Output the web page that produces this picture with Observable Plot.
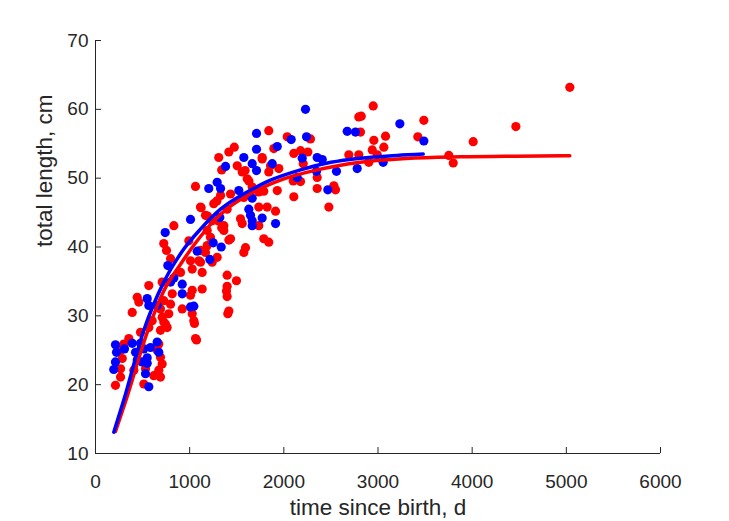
<!DOCTYPE html>
<html><head><meta charset="utf-8">
<script src="https://cdn.jsdelivr.net/npm/d3@7"></script>
<script src="https://cdn.jsdelivr.net/npm/@observablehq/plot@0.6"></script>
<style>body{margin:0;background:#fff}svg{display:block}</style>
</head><body><div id="chart"></div>
<script>
const xTicks = [0, 1000, 2000, 3000, 4000, 5000, 6000];
const yTicks = [10, 20, 30, 40, 50, 60, 70];
const xLabel = "time since birth, d";
const yLabel = "total length, cm";

// [time (d), total length (cm)]
const redPoints = [
[566,34.4],[443,32.7],[460,32.0],[390,30.5],[725,32.2],[797,31.7],[778,30.3],[708,29.8],[743,28.8],[690,27.9],[478,27.6],[354,26.7],[301,25.9],[266,25.0],[284,23.8],[266,22.3],[266,21.1],[212,19.9],[655,25.0],[690,24.0],[708,23.0],[672,22.1],[619,21.3],[513,20.1],[531,22.3],[407,22.1],[690,21.1],[1044,29.3],[1062,26.7],[690,31.0],[602,29.3],[566,28.3],[761,28.3],[672,25.9],[708,34.9],[815,33.2],
[1398,35.9],[1497,35.1],[1398,34.3],[1391,33.6],[1398,32.8],[1416,30.7],[1405,30.3],[1133,36.3],[1133,33.9],[1027,33.7],[1009,33.0],[921,31.0],[1027,30.3],[1051,28.9],[1073,26.5],
[832,43.1],[1122,45.7],[1168,44.6],[725,40.5],[754,39.5],[991,40.9],[797,38.3],[1009,38.0],[1115,37.8],[725,29.1],[1239,43.8],[1363,43.1],[1434,41.2],[1292,38.5],[1239,37.8],[1027,36.8],[903,36.3],
[1309,53.0],[1416,53.8],[1505,51.8],[1558,50.9],[1611,49.9],[1770,53.0],[1840,50.9],[1062,48.8],[1328,47.5],[1434,47.7],[1575,47.2],[1664,48.7],[1734,48.0],[1930,48.2],[1115,45.8],[1256,46.3],[1398,45.5],[1540,44.1],[1558,43.4],[1734,45.8],[1823,45.8],[1912,45.2],[1734,43.1],[1186,42.4],[1221,41.4],[1363,42.4],[1416,41.0],[1787,41.2],[1840,40.7],[1593,39.9],[1575,39.2],[1115,39.5],[1097,38.0],[1168,39.2],
[1340,51.2],[1474,54.5],[1589,51.1],[1629,49.6],[1190,44.5],[1289,46.7],[1299,43.8],[1340,42.8],[1186,40.2],
[1840,56.9],[2036,56.0],[2283,55.7],[1894,54.3],[2106,53.6],[2177,54.0],[2255,53.8],[2206,52.1],[1770,52.8],[1859,51.8],[1947,51.4],[2690,53.4],[2796,53.4],[2354,50.1],[2100,49.6],[2177,49.5],[1787,48.1],[2354,48.5],[2531,48.9],[2549,48.3],[2106,47.3],[2478,45.8],
[2949,60.5],[2796,58.9],[2822,59.0],[2814,56.7],[3080,56.1],[2956,55.5],[3062,54.5],[2939,54.1],[2992,53.4],[3487,58.4],[3423,56.0],[2902,52.3],[3752,53.3],[3799,52.2],[4011,55.3],[4464,57.5],[5037,63.2]
];
const bluePoints = [
[212,25.8],[223,24.7],[212,23.3],[194,22.2],[308,25.2],[390,26.0],[478,26.0],[425,24.7],[443,23.6],[513,25.2],[549,23.9],[496,23.3],[584,25.4],[655,26.2],[672,24.7],[531,21.6],[566,19.7],[549,32.5],[566,31.5],[797,34.9],[921,34.6],[921,33.2],[1009,31.3],[1044,31.4],[549,23.1],[655,31.5],
[1009,44.0],[740,42.1],[1250,40.6],[1335,40.0],[1080,39.4],[1214,38.2],[768,37.3],[832,35.5],[1320,44.3],
[1381,51.7],[1575,53.0],[1664,52.1],[1710,51.1],[1877,52.1],[1710,54.2],[1203,48.5],[1292,49.4],[1328,48.5],[1522,48.2],[1664,47.1],[1628,45.5],[1646,44.6],[1664,43.8],[1664,43.1],[1770,44.2],[1912,43.4],
[2230,60.0],[1710,56.5],[1930,54.6],[2078,55.6],[2241,56.0],[2195,52.9],[2354,53.0],[2408,52.7],[2347,51.0],[2559,51.0],[2142,50.1],[2467,48.3],[2673,56.8],[2761,56.7],[2779,51.4],[3232,57.9],[3487,55.4],[3055,52.3]
];
// fitted growth curves
const redCurve = [[212,13.2],[320,17.6],[549,27.6],[725,33.6],[903,37.5],[1080,40.9],[1256,43.8],[1430,45.9],[1611,47.5],[1800,48.8],[2000,49.9],[2354,51.2],[2814,52.3],[3300,52.85],[3876,53.1],[4464,53.2],[5037,53.25]];
const blueCurve = [[194,13.1],[301,17.8],[513,27.9],[725,34.9],[938,39.7],[1115,42.6],[1328,45.5],[1611,48.0],[1840,49.6],[2177,51.2],[2500,52.3],[2814,52.9],[3200,53.3],[3480,53.5]];

const ink = "#262626";
const font = "'Liberation Sans', Arial, Helvetica, sans-serif";
const fmt = d => String(d);

const chart = Plot.plot({
  width: 729, height: 521,
  marginLeft: 95, marginRight: 69, marginTop: 40, marginBottom: 68,
  style: {fontFamily: font, fontSize: "19px", color: ink, background: "white"},
  x: {domain: [0, 6000]},
  y: {domain: [10, 70]},
  marks: [
    Plot.dot(redPoints, {x: d => d[0], y: d => d[1], r: 4.6, fill: "#ff0000", stroke: "none"}),
    Plot.dot(bluePoints, {x: d => d[0], y: d => d[1], r: 4.6, fill: "#0000ff", stroke: "none"}),
    Plot.line(redCurve, {x: d => d[0], y: d => d[1], stroke: "#ff0000", strokeWidth: 3.5, curve: "monotone-x"}),
    Plot.line(blueCurve, {x: d => d[0], y: d => d[1], stroke: "#0000ff", strokeWidth: 3.5, curve: "monotone-x"}),
    Plot.ruleY([10], {stroke: ink, strokeWidth: 1}),
    Plot.ruleX([0], {stroke: ink, strokeWidth: 1}),
    Plot.tickX(xTicks, {x: d => d, stroke: ink, insetTop: 407}),
    Plot.tickY(yTicks, {y: d => d, stroke: ink, insetRight: 559}),
    Plot.axisX(xTicks, {tickSize: 0, tickPadding: 21, tickFormat: fmt, label: null, fill: ink}),
    Plot.axisY(yTicks, {tickSize: 0, tickPadding: 7, tickFormat: fmt, label: null, fill: ink}),
    Plot.text([xLabel], {text: d => d, frameAnchor: "bottom", lineAnchor: "bottom", dy: 61, fontSize: 22.5, fill: ink}),
    Plot.text([yLabel], {text: d => d, frameAnchor: "left", rotate: -90, lineAnchor: "bottom", dx: -44, fontSize: 22.5, fill: ink})
  ]
});
document.getElementById("chart").appendChild(chart);
</script>
</body></html>
